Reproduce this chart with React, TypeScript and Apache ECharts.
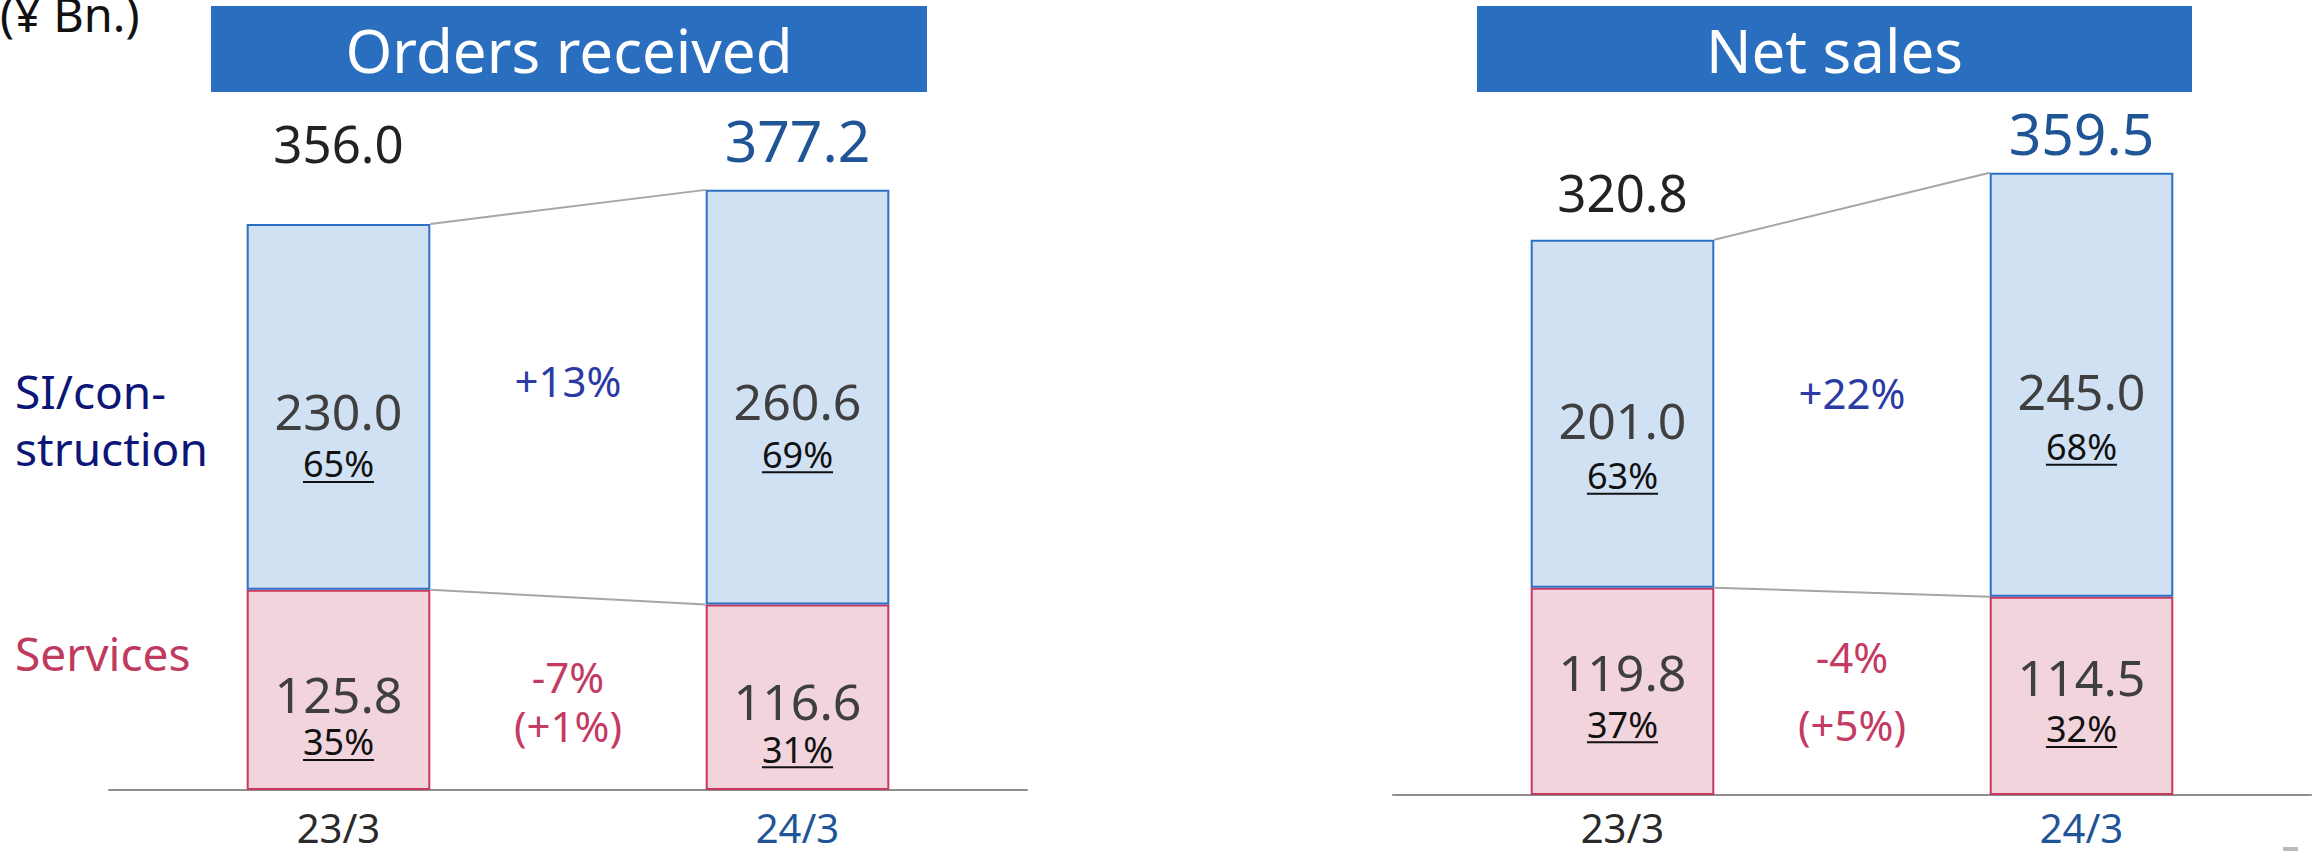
import React, { useEffect, useRef } from "react";
import * as echarts from "echarts";

// ---------- data ----------
const categories = ["23/3", "24/3"];
const titles = ["Orders received", "Net sales"];
const unitLabel = "(¥ Bn.)";
const segmentNames = ["SI/con-\nstruction", "Services"];

const ordersSI = [230.0, 260.6];
const ordersServices = [125.8, 116.6];
const ordersTotals = ["356.0", "377.2"];
const ordersSIShare = ["65%", "69%"];
const ordersServicesShare = ["35%", "31%"];
const ordersGrowth = ["+13%", "-7%", "(+1%)"];

const salesSI = [201.0, 245.0];
const salesServices = [119.8, 114.5];
const salesTotals = ["320.8", "359.5"];
const salesSIShare = ["63%", "68%"];
const salesServicesShare = ["37%", "32%"];
const salesGrowth = ["+22%", "-4%", "(+5%)"];

// ---------- styles / layout ----------
const FONT = '"Noto Sans", "Open Sans", sans-serif';
const TITLE_BG = "#2A6FBF";
const SI_FILL = "#D0E1F4";
const SI_BORDER = "#2C70C4";
const SV_FILL = "#F2D4DD";
const SV_BORDER = "#C8385E";
const CONNECTOR = "#A6A6A6";
const AXIS = "#8E8E8E";
const DARK_BLUE = "#1F5597";
const VALUE_TXT = "#3F3F3F";
const GROWTH_BLUE = "#2B3BA5";
const GROWTH_RED = "#C33A62";

const panels = [
  {
    title: titles[0],
    si: ordersSI,
    sv: ordersServices,
    totals: ordersTotals,
    siShare: ordersSIShare,
    svShare: ordersServicesShare,
    growth: ordersGrowth,
    grid: { left: 109, top: 153.6, width: 918, height: 636.4 },
    titleBox: { x: 211, y: 6, width: 716, height: 86 },
    totalGap: [81, 50],
    siDy: [4, 57],
    svDy: [4, 52],
    growthDy: [-22, -17, 32],
    axisMargin: 17,
  },
  {
    title: titles[1],
    si: salesSI,
    sv: salesServices,
    totals: salesTotals,
    siShare: salesSIShare,
    svShare: salesServicesShare,
    growth: salesGrowth,
    grid: { left: 1393, top: 102.6, width: 918, height: 692.4 },
    titleBox: { x: 1477, y: 6, width: 715, height: 86 },
    totalGap: [48, 40],
    siDy: [6, 62],
    svDy: [-19, 33],
    growthDy: [-7, -37, 31],
    axisMargin: 12,
  },
];

let measureCtx: CanvasRenderingContext2D | null = null;
function textWidth(t: string, size: number): number {
  if (!measureCtx) measureCtx = document.createElement("canvas").getContext("2d");
  if (!measureCtx) return t.length * size * 0.55;
  measureCtx.font = `${size}px ${FONT}`;
  return measureCtx.measureText(t).width;
}

function txt(x: number, y: number, text: string, size: number, fill: string, align = "center") {
  return {
    type: "text",
    x,
    y,
    style: {
      text,
      fill,
      fontSize: size,
      fontFamily: FONT,
      textAlign: align,
      textVerticalAlign: "middle",
      verticalAlign: "middle",
    },
  };
}

function makeRenderItem(p: any) {
  return (params: any, api: any) => {
    const i = params.dataIndex;
    const bw = api.size([1, 0])[0] * 0.4;
    const pos = (k: number) => {
      const base = api.coord([k, 0]);
      const ySv = api.coord([k, p.sv[k]])[1];
      const yTop = api.coord([k, p.sv[k] + p.si[k]])[1];
      return { cx: base[0], y0: base[1], ySv, yTop };
    };
    const a = pos(i);
    const children: any[] = [];
    const siMid = (a.ySv + a.yTop) / 2;
    const svMid = (a.y0 + a.ySv) / 2;

    const addSeg = (mid: number, dy: number[], value: number, share: string) => {
      children.push(txt(a.cx, mid + dy[0], value.toFixed(1), 50, VALUE_TXT));
      const py = mid + dy[1];
      children.push(txt(a.cx, py, share, 36, "#111111"));
      const w = textWidth(share, 36);
      children.push({
        type: "line",
        shape: { x1: a.cx - w / 2, y1: py + 18, x2: a.cx + w / 2, y2: py + 18 },
        style: { stroke: "#111111", lineWidth: 2 },
      });
    };
    addSeg(siMid, p.siDy, p.si[i], p.siShare[i]);
    addSeg(svMid, p.svDy, p.sv[i], p.svShare[i]);

    children.push(
      txt(a.cx, a.yTop - p.totalGap[i], p.totals[i], i === 0 ? 51 : 57, i === 0 ? "#222222" : DARK_BLUE)
    );

    if (i === 0) {
      const b = pos(1);
      const xr = a.cx + bw / 2;
      const xl = b.cx - bw / 2;
      children.push({
        type: "line",
        shape: { x1: xr, y1: a.yTop, x2: xl, y2: b.yTop },
        style: { stroke: CONNECTOR, lineWidth: 2 },
      });
      children.push({
        type: "line",
        shape: { x1: xr, y1: a.ySv, x2: xl, y2: b.ySv },
        style: { stroke: CONNECTOR, lineWidth: 2 },
      });
      const mx = (a.cx + b.cx) / 2;
      const siAvg = ((a.ySv + a.yTop) / 2 + (b.ySv + b.yTop) / 2) / 2;
      const svAvg = ((a.y0 + a.ySv) / 2 + (b.y0 + b.ySv) / 2) / 2;
      children.push(txt(mx, siAvg + p.growthDy[0], p.growth[0], 42, GROWTH_BLUE));
      children.push(txt(mx, svAvg + p.growthDy[1], p.growth[1], 42, GROWTH_RED));
      children.push(txt(mx, svAvg + p.growthDy[2], p.growth[2], 42, GROWTH_RED));
    }
    return { type: "group", children };
  };
}

function buildOption(): any {
  const graphic: any[] = [];
  panels.forEach((p) => {
    graphic.push({
      type: "rect",
      shape: { ...p.titleBox },
      style: { fill: TITLE_BG },
    });
    graphic.push({
      type: "text",
      x: p.titleBox.x + p.titleBox.width / 2,
      y: p.titleBox.y + 44,
      style: {
        text: p.title,
        fill: "#FFFFFF",
        fontSize: 60,
        fontFamily: FONT,
        textAlign: "center",
        textVerticalAlign: "middle",
        verticalAlign: "middle",
      },
    });
  });
  graphic.push({
    type: "text",
    x: 0,
    y: 14,
    style: {
      text: unitLabel,
      fill: "#111111",
      fontSize: 47,
      fontFamily: FONT,
      textAlign: "left",
      textVerticalAlign: "middle",
      verticalAlign: "middle",
    },
  });
  graphic.push({
    type: "text",
    x: 15,
    y: 419,
    style: {
      text: segmentNames[0],
      fill: "#0B1677",
      fontSize: 46,
      lineHeight: 57,
      fontFamily: FONT,
      textAlign: "left",
      textVerticalAlign: "middle",
      verticalAlign: "middle",
    },
  });
  graphic.push({
    type: "text",
    x: 15,
    y: 653,
    style: {
      text: segmentNames[1],
      fill: "#C03A5E",
      fontSize: 46,
      fontFamily: FONT,
      textAlign: "left",
      textVerticalAlign: "middle",
      verticalAlign: "middle",
    },
  });
  graphic.push({
    type: "rect",
    shape: { x: 2283, y: 847, width: 15, height: 4 },
    style: { fill: "#BBBBBB" },
  });

  const series: any[] = [];
  panels.forEach((p, k) => {
    series.push({
      type: "bar",
      name: "Services",
      xAxisIndex: k,
      yAxisIndex: k,
      stack: "s" + k,
      data: p.sv,
      barWidth: "40%",
      silent: true,
      itemStyle: { color: SV_FILL, borderColor: SV_BORDER, borderWidth: 2 },
    });
    series.push({
      type: "bar",
      name: "SI/construction",
      xAxisIndex: k,
      yAxisIndex: k,
      stack: "s" + k,
      data: p.si,
      barWidth: "40%",
      silent: true,
      itemStyle: { color: SI_FILL, borderColor: SI_BORDER, borderWidth: 2 },
    });
    series.push({
      type: "custom",
      xAxisIndex: k,
      yAxisIndex: k,
      z: 10,
      silent: true,
      clip: false,
      data: categories.map((c, i) => [i, p.si[i] + p.sv[i]]),
      renderItem: makeRenderItem(p),
    });
  });

  return {
    animation: false,
    backgroundColor: "#FFFFFF",
    grid: panels.map((p) => ({ ...p.grid })),
    xAxis: panels.map((p, k) => ({
      type: "category",
      gridIndex: k,
      data: categories,
      axisLine: { show: true, lineStyle: { color: AXIS, width: 2 } },
      axisTick: { show: false },
      axisLabel: {
        margin: p.axisMargin,
        fontSize: 40,
        fontFamily: FONT,
        color: (v: any, idx: number) => (idx === 1 ? DARK_BLUE : "#2A2A2A"),
      },
    })),
    yAxis: panels.map((p, k) => ({
      type: "value",
      gridIndex: k,
      min: 0,
      max: 400,
      show: false,
      splitLine: { show: false },
    })),
    graphic,
    series,
  };
}

export default function App() {
  const ref = useRef<HTMLDivElement>(null);
  useEffect(() => {
    if (!ref.current) return;
    const chart = echarts.init(ref.current, undefined, { renderer: "svg" });
    chart.setOption(buildOption());
    return () => chart.dispose();
  }, []);
  return (
    <div
      ref={ref}
      style={{ position: "fixed", left: 0, top: 0, width: 2318, height: 851, background: "#fff" }}
    />
  );
}
